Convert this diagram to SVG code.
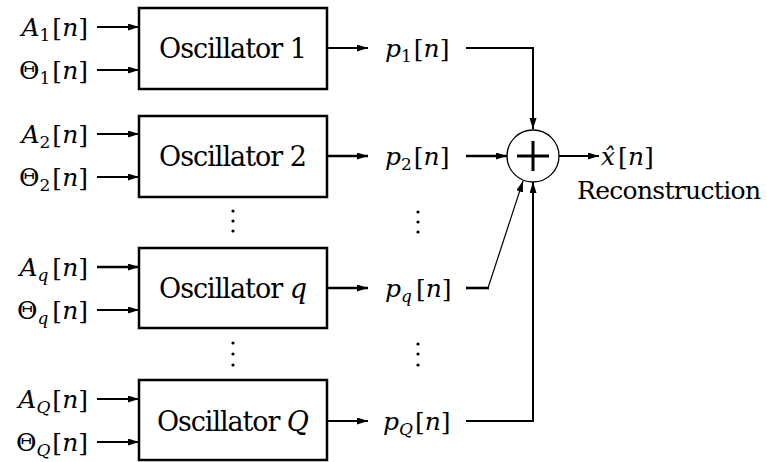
<svg xmlns="http://www.w3.org/2000/svg" width="767" height="462" viewBox="0 0 767 462">
<style>
text{font-family:"DejaVu Serif","Liberation Serif",serif;font-size:25px;fill:#000}
.big{font-size:27px}
.it{font-style:italic}
.sub{font-size:17px}
.box{fill:#fff;stroke:#000;stroke-width:2.5}
.ln{fill:none;stroke:#000;stroke-width:2}
.tk{fill:none;stroke:#000;stroke-width:2.6}
.th{fill:none;stroke:#000;stroke-width:1.2}
</style>
<defs>
<marker id="ah" markerUnits="userSpaceOnUse" markerWidth="12" markerHeight="8" refX="11" refY="3.5" orient="auto">
<path d="M0,0 L11,3.5 L0,7 z" fill="#000"/>
</marker>
</defs>
<g id="connectors">
<line class="ln" x1="97" y1="27" x2="139" y2="27" marker-end="url(#ah)"/>
<line class="ln" x1="97" y1="70" x2="139" y2="70" marker-end="url(#ah)"/>
<line class="ln" x1="97" y1="134" x2="139" y2="134" marker-end="url(#ah)"/>
<line class="ln" x1="97" y1="177" x2="139" y2="177" marker-end="url(#ah)"/>
<line class="tk" x1="97" y1="267" x2="139" y2="267" marker-end="url(#ah)"/>
<line class="ln" x1="97" y1="310" x2="139" y2="310" marker-end="url(#ah)"/>
<line class="ln" x1="97" y1="399" x2="139" y2="399" marker-end="url(#ah)"/>
<line class="ln" x1="97" y1="442" x2="139" y2="442" marker-end="url(#ah)"/>
<line class="ln" x1="327" y1="48" x2="368" y2="48" marker-end="url(#ah)"/>
<line class="tk" x1="327" y1="156" x2="368" y2="156" marker-end="url(#ah)"/>
<line class="tk" x1="327" y1="288" x2="368" y2="288" marker-end="url(#ah)"/>
<line class="ln" x1="327" y1="421" x2="368" y2="421" marker-end="url(#ah)"/>
<polyline class="ln" points="466,48 533,48 533,129" marker-end="url(#ah)"/>
<line class="tk" x1="466" y1="156" x2="507" y2="156" marker-end="url(#ah)"/>
<line class="tk" x1="466" y1="288" x2="489" y2="288"/>
<line class="th" x1="488" y1="288" x2="523" y2="181" marker-end="url(#ah)"/>
<polyline class="ln" points="466,421 533,421 533,182" marker-end="url(#ah)"/>
<line class="ln" x1="559" y1="156" x2="599" y2="156" marker-end="url(#ah)"/>
</g>
<g id="osc1">
<rect class="box" x="139" y="8" width="188" height="81"/>
<text class="big" x="233" y="58" text-anchor="middle" textLength="148">Oscillator 1</text>
</g>
<g id="osc2">
<rect class="box" x="139" y="116" width="188" height="81"/>
<text class="big" x="233" y="166" text-anchor="middle" textLength="148">Oscillator 2</text>
</g>
<g id="oscq">
<rect class="box" x="139" y="248" width="188" height="80"/>
<text class="big" x="233" y="298" text-anchor="middle" textLength="148">Oscillator <tspan class="it">q</tspan></text>
</g>
<g id="oscQ">
<rect class="box" x="139" y="380" width="188" height="80"/>
<text class="big" x="233" y="431" text-anchor="middle" textLength="152">Oscillator <tspan class="it">Q</tspan></text>
</g>
<g id="inputs">
<text x="88" y="36" text-anchor="end"><tspan class="it">A</tspan><tspan class="sub" dy="5">1</tspan><tspan dy="-5" dx="2">[</tspan><tspan class="it">n</tspan>]</text>
<text x="88" y="79" text-anchor="end">Θ<tspan class="sub" dy="5">1</tspan><tspan dy="-5" dx="2">[</tspan><tspan class="it">n</tspan>]</text>
<text x="88" y="143" text-anchor="end"><tspan class="it">A</tspan><tspan class="sub" dy="5">2</tspan><tspan dy="-5" dx="2">[</tspan><tspan class="it">n</tspan>]</text>
<text x="88" y="186" text-anchor="end">Θ<tspan class="sub" dy="5">2</tspan><tspan dy="-5" dx="2">[</tspan><tspan class="it">n</tspan>]</text>
<text x="88" y="276" text-anchor="end"><tspan class="it">A</tspan><tspan class="sub it" dy="5">q</tspan><tspan dy="-5" dx="4">[</tspan><tspan class="it">n</tspan>]</text>
<text x="88" y="319" text-anchor="end">Θ<tspan class="sub it" dy="5">q</tspan><tspan dy="-5" dx="4">[</tspan><tspan class="it">n</tspan>]</text>
<text x="88" y="408" text-anchor="end"><tspan class="it">A</tspan><tspan class="sub it" dy="5">Q</tspan><tspan dy="-5" dx="2">[</tspan><tspan class="it">n</tspan>]</text>
<text x="88" y="451" text-anchor="end">Θ<tspan class="sub it" dy="5">Q</tspan><tspan dy="-5" dx="2">[</tspan><tspan class="it">n</tspan>]</text>
</g>
<g id="outputs">
<text x="385" y="57"><tspan class="it">p</tspan><tspan class="sub" dy="5">1</tspan><tspan dy="-5" dx="2">[</tspan><tspan class="it">n</tspan>]</text>
<text x="385" y="165"><tspan class="it">p</tspan><tspan class="sub" dy="5">2</tspan><tspan dy="-5" dx="2">[</tspan><tspan class="it">n</tspan>]</text>
<text x="385" y="297"><tspan class="it">p</tspan><tspan class="sub it" dy="5">q</tspan><tspan dy="-5" dx="4">[</tspan><tspan class="it">n</tspan>]</text>
<text x="383" y="430"><tspan class="it">p</tspan><tspan class="sub it" dy="5">Q</tspan><tspan dy="-5" dx="2">[</tspan><tspan class="it">n</tspan>]</text>
</g>
<g id="dots" fill="#000">
<circle cx="233" cy="211" r="1.6"/><circle cx="233" cy="221" r="1.6"/><circle cx="233" cy="231" r="1.6"/>
<circle cx="233" cy="343" r="1.6"/><circle cx="233" cy="354" r="1.6"/><circle cx="233" cy="365" r="1.6"/>
<circle cx="418" cy="212" r="1.6"/><circle cx="418" cy="222" r="1.6"/><circle cx="418" cy="232" r="1.6"/>
<circle cx="418" cy="344" r="1.6"/><circle cx="418" cy="354" r="1.6"/><circle cx="418" cy="365" r="1.6"/>
</g>
<g id="sum">
<circle cx="533" cy="156" r="26" fill="#fff" stroke="#000" stroke-width="1.3"/>
<line x1="517" y1="156" x2="549" y2="156" stroke="#000" stroke-width="3"/>
<line x1="533" y1="141" x2="533" y2="171" stroke="#000" stroke-width="3"/>
</g>
<g id="result">
<text x="601" y="165"><tspan class="it">x̂</tspan><tspan dx="3">[</tspan><tspan class="it">n</tspan>]</text>
<text x="577" y="199" textLength="184">Reconstruction</text>
</g>
</svg>
